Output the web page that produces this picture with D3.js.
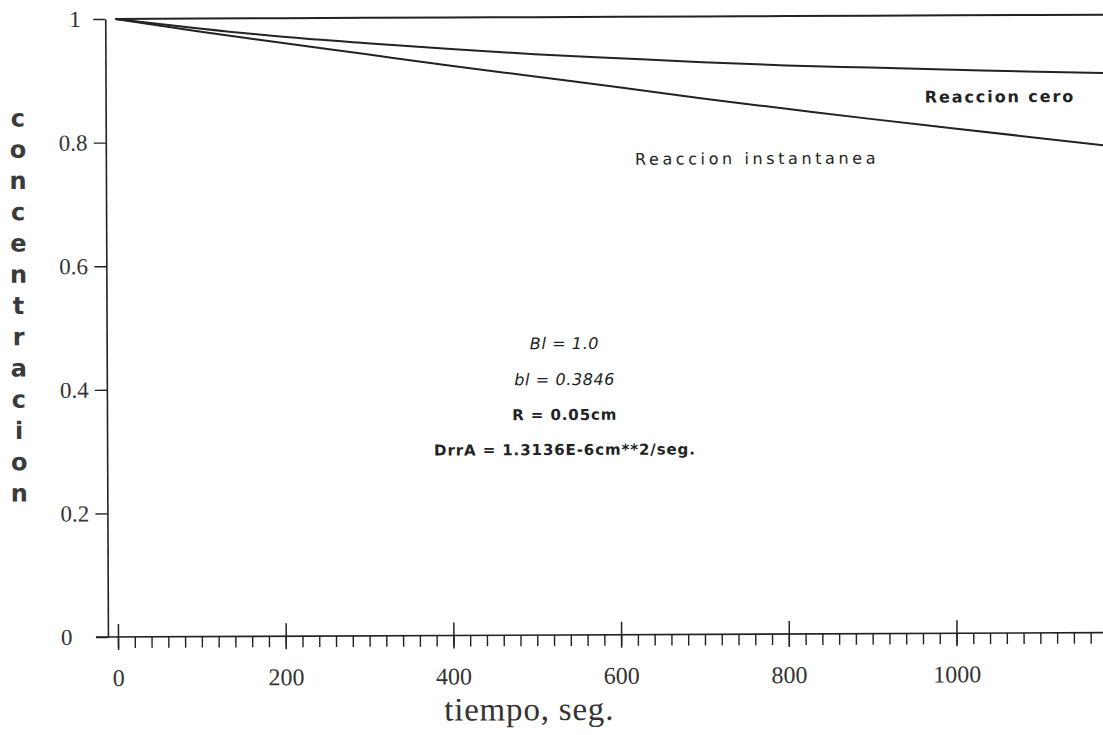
<!DOCTYPE html>
<html>
<head>
<meta charset="utf-8">
<script src="https://cdn.jsdelivr.net/npm/d3@7"></script>
<style>
  body { margin: 0; background: #fff; }
  svg { display: block; }
</style>
</head>
<body>
<div id="chart"></div>
<script>
// tiempo (seg) y concentracion
const tiempo = [0, 100, 200, 300, 400, 500, 600, 700, 800, 900, 1000, 1100, 1200];
const sinReaccion = [1, 1, 1, 1, 1, 1, 1, 1, 1, 1, 1, 1, 1];
const reaccionCero = [1.000, 0.984, 0.970, 0.959, 0.949, 0.940, 0.933, 0.926, 0.920, 0.916, 0.912, 0.908, 0.905];
const reaccionInst = [1.000, 0.979, 0.960, 0.941, 0.922, 0.904, 0.886, 0.867, 0.850, 0.833, 0.817, 0.801, 0.785];

const xMajor = [0, 200, 400, 600, 800, 1000];
const xMinor = d3.range(0, 1200, 20);
const yTicks = [0, 0.2, 0.4, 0.6, 0.8, 1];
const yTitle = "concentracion";
const notas = ["Bl = 1.0", "bl = 0.3846", "R = 0.05cm", "DrrA = 1.3136E-6cm**2/seg."];

const W = 1103, H = 735;

const svg = d3.select("#chart")
    .append("svg")
    .attr("width", W)
    .attr("height", H);

svg.append("rect").attr("width", W).attr("height", H).attr("fill", "#fff");

// the scan is a little bit tilted
const g = svg.append("g")
    .attr("transform", "rotate(-0.25, 108, 637)");

const xScale = d3.scaleLinear().domain([0, 1200]).range([118, 118 + 1200 * 0.8385]);
const yScale = d3.scaleLinear().domain([0, 1]).range([637, 19]);

const ink = "#222";
const numFont = "'Liberation Serif', serif";

// Y axis
const yAxisAt = -12;
const yAxis = g.append("g")
    .attr("transform", `translate(${xScale(yAxisAt)}, 0)`)
    .call(d3.axisLeft(yScale)
        .tickValues(yTicks)
        .tickSizeInner(12)
        .tickSizeOuter(0)
        .tickFormat(d => (d === 0 || d === 1) ? String(d) : d3.format(".1f")(d)));
yAxis.select(".domain").attr("stroke", ink).attr("stroke-width", 1.6);
yAxis.selectAll(".tick line").attr("stroke", ink).attr("stroke-width", 1.4);
// plotter puts the labels left-aligned, the "1" sits a bit further right
yAxis.selectAll(".tick text")
    .attr("text-anchor", "start")
    .attr("x", d => d === 1 ? -36 : -47)
    .attr("font-family", numFont)
    .attr("font-size", 23)
    .attr("fill", "#333");

// X axis line
g.append("line")
    .attr("x1", xScale(-26))
    .attr("x2", xScale(1200))
    .attr("y1", yScale(0))
    .attr("y2", yScale(0))
    .attr("stroke", ink)
    .attr("stroke-width", 1.6);

// minor ticks
const xMin = g.append("g")
    .attr("transform", `translate(0, ${yScale(0)})`)
    .call(d3.axisBottom(xScale).tickValues(xMinor).tickSize(11).tickFormat(""));
xMin.select(".domain").remove();
xMin.selectAll(".tick line").attr("stroke", ink).attr("stroke-width", 1.4);

// major ticks, cross the axis
const xMaj = g.append("g")
    .attr("transform", `translate(0, ${yScale(0)})`)
    .call(d3.axisBottom(xScale).tickValues(xMajor).tickSize(13).tickPadding(19).tickFormat(d3.format("d")));
xMaj.select(".domain").remove();
xMaj.selectAll(".tick line").attr("y1", -13).attr("stroke", ink).attr("stroke-width", 1.5);
xMaj.selectAll(".tick text")
    .attr("font-family", numFont)
    .attr("font-size", 24)
    .attr("fill", "#333");

// X title
g.append("text")
    .attr("x", xScale(490))
    .attr("y", 722)
    .attr("text-anchor", "middle")
    .attr("font-family", numFont)
    .attr("font-size", 33)
    .attr("letter-spacing", 0.8)
    .attr("fill", "#333")
    .text("tiempo, seg.");

// Y title, one letter under the other
g.append("g")
    .selectAll("text")
    .data(yTitle.split(""))
    .enter()
    .append("text")
    .attr("x", 20)
    .attr("y", (d, i) => 118 + i * 31.25)
    .attr("text-anchor", "middle")
    .attr("dominant-baseline", "central")
    .attr("font-family", "'DejaVu Sans', sans-serif")
    .attr("font-weight", "bold")
    .attr("font-size", 24)
    .attr("fill", "#3a3a3a")
    .text(d => d);

// lines
const lineGenerator = d3.line()
    .x((d, i) => xScale(tiempo[i]))
    .y(d => yScale(d))
    .curve(d3.curveMonotoneX);

[sinReaccion, reaccionCero, reaccionInst].forEach(serie => {
    g.append("path")
        .datum(serie)
        .attr("fill", "none")
        .attr("stroke", ink)
        .attr("stroke-width", 2)
        .attr("d", lineGenerator);
});

// labels
g.append("text")
    .attr("x", xScale(965))
    .attr("y", yScale(0.859))
    .attr("font-family", "'DejaVu Sans', sans-serif")
    .attr("font-weight", "bold")
    .attr("font-size", 16)
    .attr("letter-spacing", 1.9)
    .attr("fill", "#222")
    .text("Reaccion cero");

g.append("text")
    .attr("x", xScale(619))
    .attr("y", yScale(0.7605))
    .attr("font-family", "'DejaVu Sans', sans-serif")
    .attr("font-size", 16)
    .attr("letter-spacing", 3.6)
    .attr("fill", "#222")
    .text("Reaccion instantanea");

// parameters
const notaY = [0.4628, 0.4045, 0.3479, 0.2913];
g.append("g")
    .selectAll("text")
    .data(notas)
    .enter()
    .append("text")
    .attr("x", xScale(534))
    .attr("y", (d, i) => yScale(notaY[i]))
    .attr("text-anchor", "middle")
    .attr("font-family", "'DejaVu Sans', sans-serif")
    .attr("font-style", (d, i) => i < 2 ? "italic" : "normal")
    .attr("font-weight", (d, i) => i < 2 ? "normal" : "bold")
    .attr("font-size", (d, i) => i < 2 ? 16 : 15)
    .attr("letter-spacing", (d, i) => i < 2 ? 0.6 : 0.9)
    .attr("fill", "#222")
    .text(d => d);
</script>
</body>
</html>
